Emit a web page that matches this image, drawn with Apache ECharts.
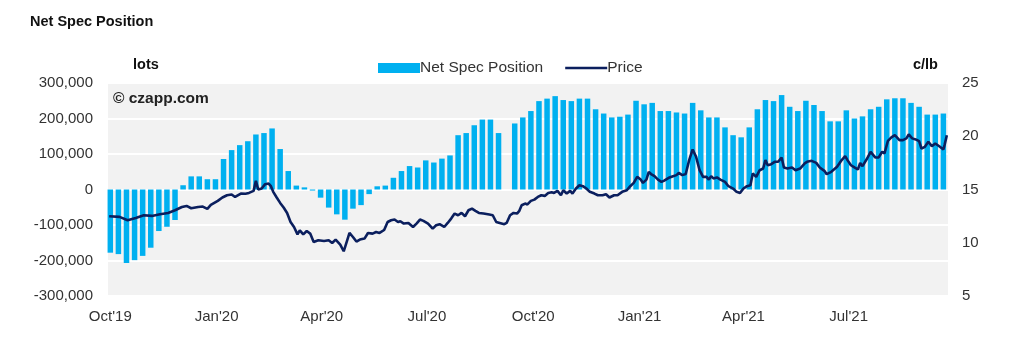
<!DOCTYPE html>
<html>
<head>
<meta charset="utf-8">
<script src="https://cdn.jsdelivr.net/npm/echarts@6/dist/echarts.min.js"></script>
<style>
html,body{margin:0;padding:0;background:#fff;}
#chart{width:1019px;height:347px;}
</style>
</head>
<body>
<div id="chart"></div>
<script>
// Weekly report dates (Tuesdays)
const weekDates = [
'2019-10-01','2019-10-08','2019-10-15','2019-10-22','2019-10-29','2019-11-05','2019-11-12','2019-11-19','2019-11-26',
'2019-12-03','2019-12-10','2019-12-17','2019-12-24','2019-12-31',
'2020-01-07','2020-01-14','2020-01-21','2020-01-28','2020-02-04','2020-02-11','2020-02-18','2020-02-25',
'2020-03-03','2020-03-10','2020-03-17','2020-03-24','2020-03-31','2020-04-07','2020-04-14','2020-04-21','2020-04-28',
'2020-05-05','2020-05-12','2020-05-19','2020-05-26','2020-06-02','2020-06-09','2020-06-16','2020-06-23','2020-06-30',
'2020-07-07','2020-07-14','2020-07-21','2020-07-28','2020-08-04','2020-08-11','2020-08-18','2020-08-25',
'2020-09-01','2020-09-08','2020-09-15','2020-09-22','2020-09-29','2020-10-06','2020-10-13','2020-10-20','2020-10-27',
'2020-11-03','2020-11-10','2020-11-17','2020-11-24','2020-12-01','2020-12-08','2020-12-15','2020-12-22','2020-12-29',
'2021-01-05','2021-01-12','2021-01-19','2021-01-26','2021-02-02','2021-02-09','2021-02-16','2021-02-23',
'2021-03-02','2021-03-09','2021-03-16','2021-03-23','2021-03-30','2021-04-06','2021-04-13','2021-04-20','2021-04-27',
'2021-05-04','2021-05-11','2021-05-18','2021-05-25','2021-06-01','2021-06-08','2021-06-15','2021-06-22','2021-06-29',
'2021-07-06','2021-07-13','2021-07-20','2021-07-27','2021-08-03','2021-08-10','2021-08-17','2021-08-24','2021-08-31',
'2021-09-07','2021-09-14','2021-09-21'
];
// Net spec position, lots
const netSpec = [
-178000,-182000,-207000,-199000,-187000,-164000,-117000,-105000,-86000,
12000,37000,37000,29000,29000,
86000,111000,125000,136000,155000,159000,172000,114000,
52000,11000,6000,-3000,-23000,-51000,-70000,-85000,-54000,
-44000,-13000,9000,11000,33000,52000,66000,62000,82000,
76000,87000,96000,153000,159000,181000,197000,197000,
159000,null,186000,203000,221000,249000,256000,263000,252000,
249000,256000,256000,226000,214000,203000,205000,211000,250000,
240000,244000,221000,221000,217000,214000,244000,223000,
203000,203000,175000,153000,147000,175000,226000,252000,249000,
266000,233000,221000,250000,238000,221000,192000,192000,223000,
200000,206000,226000,233000,254000,257000,257000,244000,233000,
211000,211000,214000
];
// Price, c/lb
const priceDates = [
'2019-09-30','2019-10-09','2019-10-16','2019-10-23','2019-10-30','2019-11-06','2019-11-13','2019-11-20','2019-11-26',
'2019-12-02','2019-12-06','2019-12-10','2019-12-16','2019-12-20','2019-12-24','2019-12-27',
'2020-01-02','2020-01-06','2020-01-10','2020-01-14','2020-01-17','2020-01-22','2020-01-26','2020-01-29',
'2020-02-02','2020-02-04','2020-02-06','2020-02-09','2020-02-12','2020-02-15','2020-02-17','2020-02-19','2020-02-22','2020-02-25','2020-02-28',
'2020-03-02','2020-03-05','2020-03-08','2020-03-11','2020-03-13','2020-03-16','2020-03-19','2020-03-22','2020-03-25','2020-03-29',
'2020-04-03','2020-04-07','2020-04-10','2020-04-13','2020-04-17','2020-04-20','2020-04-23','2020-04-25','2020-04-28',
'2020-05-01','2020-05-04','2020-05-08','2020-05-11','2020-05-15','2020-05-18','2020-05-21','2020-05-25','2020-05-28','2020-05-31',
'2020-06-03','2020-06-06','2020-06-08','2020-06-11','2020-06-15','2020-06-19','2020-06-22','2020-06-25','2020-06-28',
'2020-07-02','2020-07-06','2020-07-09','2020-07-12','2020-07-16','2020-07-19','2020-07-22','2020-07-25','2020-07-28','2020-07-31',
'2020-08-03','2020-08-06','2020-08-09','2020-08-12','2020-08-15','2020-08-19','2020-08-24','2020-08-27','2020-08-30',
'2020-09-02','2020-09-06','2020-09-08','2020-09-11','2020-09-14','2020-09-17','2020-09-19','2020-09-21','2020-09-24','2020-09-26','2020-09-29',
'2020-10-02','2020-10-05','2020-10-08','2020-10-11','2020-10-14','2020-10-17','2020-10-19','2020-10-22','2020-10-25','2020-10-27','2020-10-30',
'2020-11-02','2020-11-04','2020-11-07','2020-11-10','2020-11-13','2020-11-16','2020-11-19','2020-11-23','2020-11-26','2020-11-30',
'2020-12-03','2020-12-06','2020-12-10','2020-12-13','2020-12-17','2020-12-21','2020-12-24','2020-12-27','2020-12-30',
'2021-01-02','2021-01-04','2021-01-07','2021-01-09','2021-01-11','2021-01-14','2021-01-17','2021-01-20','2021-01-22','2021-01-27','2021-01-30',
'2021-02-02','2021-02-04','2021-02-07','2021-02-10','2021-02-13','2021-02-16','2021-02-19','2021-02-22','2021-02-25','2021-02-28',
'2021-03-02','2021-03-04','2021-03-06','2021-03-09','2021-03-12','2021-03-16','2021-03-19','2021-03-23','2021-03-26','2021-03-29',
'2021-04-01','2021-04-04','2021-04-07','2021-04-09','2021-04-12','2021-04-15','2021-04-18','2021-04-20','2021-04-22','2021-04-25','2021-04-28',
'2021-05-01','2021-05-04','2021-05-06','2021-05-09','2021-05-13','2021-05-16','2021-05-20','2021-05-24','2021-05-26','2021-05-30',
'2021-06-03','2021-06-06','2021-06-10','2021-06-12','2021-06-16','2021-06-21','2021-06-25','2021-06-28','2021-06-30',
'2021-07-03','2021-07-06','2021-07-09','2021-07-11','2021-07-13','2021-07-17','2021-07-20','2021-07-24','2021-07-27','2021-07-30',
'2021-08-01','2021-08-04','2021-08-07','2021-08-10','2021-08-14','2021-08-17','2021-08-20','2021-08-22','2021-08-25','2021-08-28','2021-08-31',
'2021-09-02','2021-09-05','2021-09-08','2021-09-11','2021-09-14','2021-09-18','2021-09-21','2021-09-22','2021-09-24'
];
const priceValues = [
12.49,12.43,12.11,12.33,12.58,12.52,12.68,12.80,13.05,
13.36,13.46,13.24,13.36,13.40,13.18,13.55,
13.93,14.25,14.46,14.53,14.30,14.62,14.60,14.68,
14.87,15.81,15.00,15.09,15.50,15.56,15.31,14.78,14.25,13.74,13.31,
12.80,11.95,11.48,10.79,11.17,10.79,11.10,10.86,10.07,10.23,
10.17,10.23,9.98,10.30,9.83,9.20,10.23,10.92,10.54,
10.11,10.30,10.39,10.92,10.86,11.01,10.92,11.20,11.95,12.11,
12.18,11.95,12.02,11.80,11.86,11.48,11.80,12.18,12.05,
11.80,11.33,11.64,11.74,11.48,11.86,12.27,12.74,12.58,12.80,
12.49,13.05,13.21,13.00,12.80,12.74,12.65,12.58,11.95,
11.86,11.74,11.86,12.58,12.80,12.74,13.00,13.52,13.68,13.60,13.93,
14.05,14.30,14.46,14.40,14.68,14.74,14.68,14.87,14.46,14.93,14.62,
14.87,14.62,15.09,15.40,15.31,15.09,14.78,14.62,14.46,14.46,
14.56,14.25,14.46,14.46,14.78,14.93,15.31,15.62,16.19,
15.93,15.62,15.93,16.66,16.45,16.25,15.93,15.72,15.81,16.13,16.25,
16.35,16.56,16.35,16.45,17.76,18.76,18.07,16.81,16.19,16.19,
15.93,16.25,16.04,16.13,15.93,15.72,15.31,15.09,14.78,14.68,
15.09,15.31,15.40,16.50,16.19,16.81,16.97,17.76,17.28,17.38,17.60,
17.60,18.01,17.07,16.97,17.07,16.81,16.97,17.45,17.60,17.69,
17.50,17.07,16.75,16.44,16.66,17.13,17.76,18.13,17.76,
17.28,17.07,16.88,17.50,17.19,17.91,18.54,18.01,18.01,18.54,
18.38,19.57,19.89,20.10,19.64,19.64,19.80,20.17,19.80,19.70,19.54,
18.85,19.01,19.48,19.07,19.32,19.01,18.76,19.17,20.10
];
// Axis labels
const xLabelDates = ['2019-10-01','2020-01-01','2020-04-01','2020-07-01','2020-10-01','2021-01-01','2021-04-01','2021-07-01'];
const monthNames = ['Jan','Feb','Mar','Apr','May','Jun','Jul','Aug','Sep','Oct','Nov','Dec'];

function ts(s){const p=s.split('-');return Date.UTC(+p[0],+p[1]-1,+p[2]);}

const barData = weekDates.map((d,i)=>[ts(d), netSpec[i]]);
const lineData = priceDates.map((d,i)=>[ts(d), priceValues[i]]);

const FONT = '"Liberation Sans", Arial, sans-serif';
const chart = echarts.init(document.getElementById('chart'), null, {renderer:'canvas'});
chart.setOption({
  animation:false,
  textStyle:{fontFamily:FONT},
  grid:{left:108,right:71,top:83,bottom:51,show:true,backgroundColor:'#f2f2f2',borderWidth:0,containLabel:false},
  legend:{
    left:378, top:60, padding:0, itemWidth:42, itemHeight:10, itemGap:22,
    textStyle:{fontFamily:FONT,fontSize:15.5,color:'#333',padding:[0,0,0,-5]},
    data:[
      {name:'Net Spec Position',icon:'rect'},
      {name:'Price',icon:'path://M0,0 M0,3.8 L42,3.8 L42,6.2 L0,6.2 Z M42,10'}
    ]
  },
  graphic:[
    {type:'text',left:30,top:14,style:{text:'Net Spec Position',font:'bold 14.5px '+FONT,fill:'#111'}},
    {type:'text',left:133,top:57,style:{text:'lots',font:'bold 14.5px '+FONT,fill:'#111'}},
    {type:'text',left:913,top:57,style:{text:'c/lb',font:'bold 14.5px '+FONT,fill:'#111'}},
    {type:'text',left:113,top:91,z:10,style:{text:'\u00a9 czapp.com',font:'bold 15.5px '+FONT,fill:'#222'}}
  ],
  xAxis:{
    type:'value',
    min:ts('2019-09-29'), max:ts('2021-09-25'),
    axisLine:{show:false}, axisTick:{show:false}, splitLine:{show:false},
    axisLabel:{
      customValues:xLabelDates.map(ts),
      margin:13, fontSize:15, color:'#333', fontFamily:FONT,
      formatter:function(v){const d=new Date(v);return monthNames[d.getUTCMonth()]+"'"+String(d.getUTCFullYear()).slice(2);}
    }
  },
  yAxis:[
    {type:'value',min:-300000,max:300000,interval:100000,
     axisLine:{show:false},axisTick:{show:false},
     splitLine:{show:true,lineStyle:{color:'#ffffff',width:2}},
     axisLabel:{fontSize:15,color:'#333',margin:15,fontFamily:FONT,
       formatter:function(v){return v.toLocaleString('en-US');}}},
    {type:'value',min:5,max:25,interval:5,
     axisLine:{show:false},axisTick:{show:false},splitLine:{show:false},
     axisLabel:{fontSize:15,color:'#333',margin:14,fontFamily:FONT}}
  ],
  series:[
    {name:'Net Spec Position',type:'bar',data:barData,barWidth:5.5,itemStyle:{color:'#00b0f0'},z:2},
    {name:'Price',type:'line',yAxisIndex:1,data:lineData,symbol:'none',showSymbol:false,
     lineStyle:{color:'#0b1f5e',width:2.6},itemStyle:{color:'#0b1f5e'},z:3}
  ]
});
</script>
</body>
</html>
